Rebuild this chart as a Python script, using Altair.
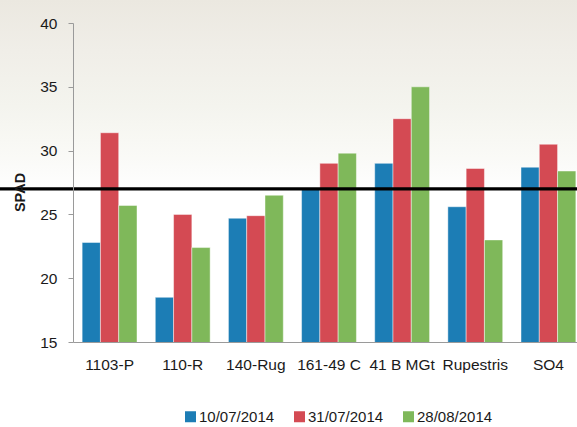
import altair as alt
import pandas as pd

# Rootstocks on the x axis and the three sampling dates
rootstocks = ["1103-P", "110-R", "140-Rug", "161-49 C", "41 B MGt", "Rupestris", "SO4"]
dates = ["10/07/2014", "31/07/2014", "28/08/2014"]

# SPAD readings per sampling date
spad_jul10 = [22.8, 18.5, 24.7, 27.0, 29.0, 25.6, 28.7]
spad_jul31 = [31.4, 25.0, 24.9, 29.0, 32.5, 28.6, 30.5]
spad_aug28 = [25.7, 22.4, 26.5, 29.8, 35.0, 23.0, 28.4]

threshold = [27]

colors = ["#1c7db5", "#d44a53", "#7fb85a"]

rows = []
for series, values in zip(dates, [spad_jul10, spad_jul31, spad_aug28]):
    for r, v in zip(rootstocks, values):
        rows.append({"rootstock": r, "date": series, "spad": v})
df = pd.DataFrame(rows)

W, H = 504, 319
LEFT, TOP = 73, 23

# soft backdrop that fades from warm grey at the top to white
backdrop = alt.Chart(pd.DataFrame({"k": [0]})).mark_rect(
    fill=alt.Gradient(
        gradient="linear", x1=0, y1=0, x2=0, y2=1,
        stops=[
            alt.GradientStop(offset=0, color="#ebe8e0"),
            alt.GradientStop(offset=0.12, color="#f0eee8"),
            alt.GradientStop(offset=0.25, color="#f4f4ee"),
            alt.GradientStop(offset=0.37, color="#fafaf7"),
            alt.GradientStop(offset=0.45, color="#ffffff"),
            alt.GradientStop(offset=1, color="#ffffff"),
        ],
    )
).encode(
    x=alt.value(-LEFT), x2=alt.value(W + 10),
    y=alt.value(-TOP), y2=alt.value(427 - TOP),
)

bars = alt.Chart(df).mark_bar(
    stroke="white", strokeOpacity=0.45, strokeWidth=1, clip=True
).encode(
    x=alt.X(
        "rootstock:N",
        sort=rootstocks,
        scale=alt.Scale(range=[0, 512], paddingInner=0.25, paddingOuter=0.125),
        axis=alt.Axis(
            title=None, labelAngle=0, ticks=False, labelFontSize=15.5,
            labelPadding=15, labelColor="#1a1a1a", domainColor="#9a9a9a",
            labelFont="Liberation Sans", zindex=1,
        ),
    ),
    xOffset=alt.XOffset("date:N", sort=dates),
    y=alt.Y(
        "spad:Q",
        scale=alt.Scale(domain=[15, 40], nice=False, zero=False),
        axis=alt.Axis(
            title="SPAD", values=[15, 20, 25, 30, 35, 40], grid=False,
            tickSize=5, tickColor="#9a9a9a", domainColor="#9a9a9a",
            labelFontSize=15.5, labelPadding=11, labelColor="#1a1a1a",
            labelFont="Liberation Sans", zindex=1,
            titleFont="Liberation Sans", titleFontSize=14.5, titleFontWeight="bold",
            titleColor="#1a1a1a", titleAngle=-90, titleX=-53, titleY=169,
            titleAlign="center", titleBaseline="middle",
        ),
    ),
    color=alt.Color(
        "date:N",
        sort=dates,
        scale=alt.Scale(domain=dates, range=colors),
        legend=alt.Legend(
            title=None, orient="none", direction="horizontal",
            legendX=110, legendY=386, symbolType="square", symbolSize=121,
            symbolStrokeWidth=0, labelFontSize=15, labelFont="Liberation Sans",
            labelColor="#1a1a1a", labelOffset=1, columnPadding=17, padding=0,
        ),
    ),
)

line = alt.Chart(pd.DataFrame({"t": threshold})).mark_rule(
    color="black", strokeWidth=3.3
).encode(
    y="t:Q",
    x=alt.value(-LEFT), x2=alt.value(W + 10),
)

chart = alt.layer(backdrop, bars, line).properties(
    width=W, height=H,
    autosize=alt.AutoSizeParams(type="none"),
    padding={"left": LEFT, "top": TOP, "right": 0, "bottom": 427 - TOP - H},
).configure_view(stroke=None)

chart.save("out.html", embed_options={"renderer": "svg", "actions": False})
